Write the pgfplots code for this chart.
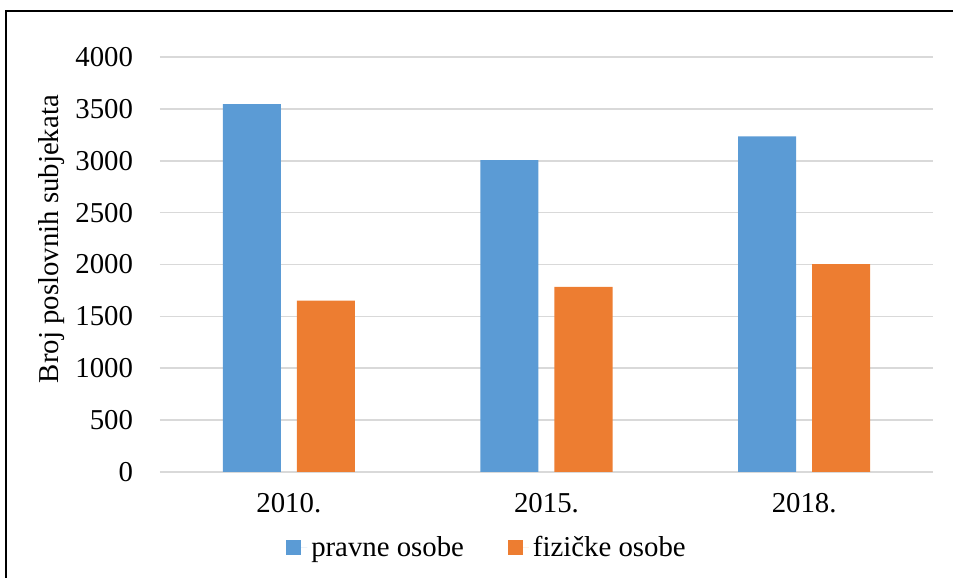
\documentclass[border=0pt]{standalone}
\usepackage{fontspec}
\setmainfont{Liberation Serif}
\usepackage{pgfplots}
\pgfplotsset{compat=1.18}
\definecolor{cblue}{HTML}{5B9BD5}
\definecolor{corange}{HTML}{ED7D31}
\definecolor{cgrid}{HTML}{D9D9D9}
\begin{document}
\begin{tikzpicture}
\useasboundingbox (-80bp,-53bp) rectangle (396.5bp,236bp);
\draw[line width=1.1bp] (-77bp,-60bp) -- (-77bp,230.3bp) -- (400bp,230.3bp);
\begin{axis}[
  at={(0,0)}, anchor=south west,
  scale only axis, width=386.5bp, height=207.5bp,
  font=\fontsize{14.4bp}{16bp}\selectfont,
  ybar=8bp, bar width=29bp,
  xmin=-0.5, xmax=2.5, ymin=0, ymax=4000,
  xtick={0,1,2}, xticklabels={2010.,2015.,2018.},
  ytick={0,500,...,4000},
  major tick length=0pt,
  axis line style={draw=none},
  ymajorgrids, grid style={cgrid, line width=0.8bp},
  /pgf/number format/1000 sep={},
  /pgf/number format/assume math mode=true,
  yticklabel style={anchor=east, xshift=-10bp},
  xticklabel style={anchor=north, yshift=-7bp},
  ylabel={Broj poslovnih subjekata},
  ylabel style={at={(axis description cs:-0.1397,0.561)}, anchor=center},
  legend columns=2,
  legend style={draw=none, fill=none, at={(axis description cs:0.4243,-0.183)}, anchor=center,
    /tikz/every even column/.append style={column sep=20bp},
    font=\fontsize{14.4bp}{16bp}\selectfont},
  legend image code/.code={\fill[#1] (0bp,-3.75bp) rectangle (7.5bp,3.75bp);\path (0bp,0bp) -- (10.5bp,0bp);},
]
\addplot[fill=cblue, draw=none] coordinates {(0,3545) (1,3007) (2,3235)};
\addplot[fill=corange, draw=none] coordinates {(0,1652) (1,1785) (2,2004)};
\legend{pravne osobe, fizičke osobe}
\end{axis}
\end{tikzpicture}
\end{document}
